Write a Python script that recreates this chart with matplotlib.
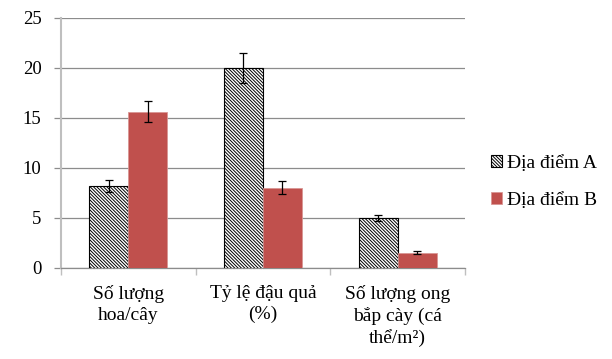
import numpy as np
import matplotlib.pyplot as plt

plt.rcParams['font.family'] = ['Liberation Serif', 'DejaVu Serif']

categories = ['Số lượng\nhoa/cây', 'Tỷ lệ đậu quả\n(%)', 'Số lượng ong\nbắp cày (cá\nthể/m²)']
site_a = [8.2, 20.0, 5.0]
site_a_err = [0.6, 1.5, 0.3]
site_b = [15.6, 8.0, 1.5]
site_b_err = [1.05, 0.65, 0.15]
labels = ['Địa điểm A', 'Địa điểm B']

fig = plt.figure(figsize=(6.12, 3.59), dpi=100)
ax = fig.add_axes([0.0997, 0.2535, 0.660, 0.6964])

x = np.arange(len(categories))
w = 0.29
plt.rcParams['hatch.linewidth'] = 0.7
ax.bar(x - w/2, site_a, w, color='white', edgecolor='black', hatch='\\' * 10,
       linewidth=0.8, label=labels[0], zorder=3)
ax.bar(x + w/2, site_b, w, color='#C0504D', edgecolor='#D99694', linewidth=0.6,
       label=labels[1], zorder=3)
ax.errorbar(x - w/2, site_a, yerr=site_a_err, fmt='none', ecolor='black',
            elinewidth=0.9, capsize=3, capthick=0.9, zorder=4)
ax.errorbar(x + w/2, site_b, yerr=site_b_err, fmt='none', ecolor='black',
            elinewidth=0.9, capsize=3, capthick=0.9, zorder=4)

ax.set_xlim(-0.5, 2.5)
ax.set_ylim(0, 25)
ax.set_yticks(np.arange(0, 26, 5))
ax.yaxis.grid(True, color='#8c8c8c', linewidth=0.9, zorder=0)
ax.set_axisbelow(True)

ax.set_xticks(x)
ax.set_xticklabels(categories, fontsize=14, linespacing=1.3, va='top')
ax.set_xticks([-0.5, 0.5, 1.5, 2.5], minor=True)
ax.tick_params(axis='x', which='major', length=0, pad=12)
ax.tick_params(axis='x', which='minor', length=5, color='#bfbfbf', width=1)
ax.tick_params(axis='y', length=5, color='#8c8c8c', width=0.9, labelsize=13.5, pad=9)

for s in ['top', 'right']:
    ax.spines[s].set_visible(False)
ax.spines['left'].set_color('#bfbfbf')
ax.spines['left'].set_linewidth(1.5)
ax.spines['bottom'].set_color('#8c8c8c')
ax.spines['bottom'].set_linewidth(0.9)

fig.legend(loc='center left', bbox_to_anchor=(0.803, 0.493), frameon=False,
           fontsize=14, handlelength=0.55, handleheight=0.55, handletextpad=0.25,
           labelspacing=1.05, borderaxespad=0, borderpad=0)

fig.savefig('out.png', dpi=100)
